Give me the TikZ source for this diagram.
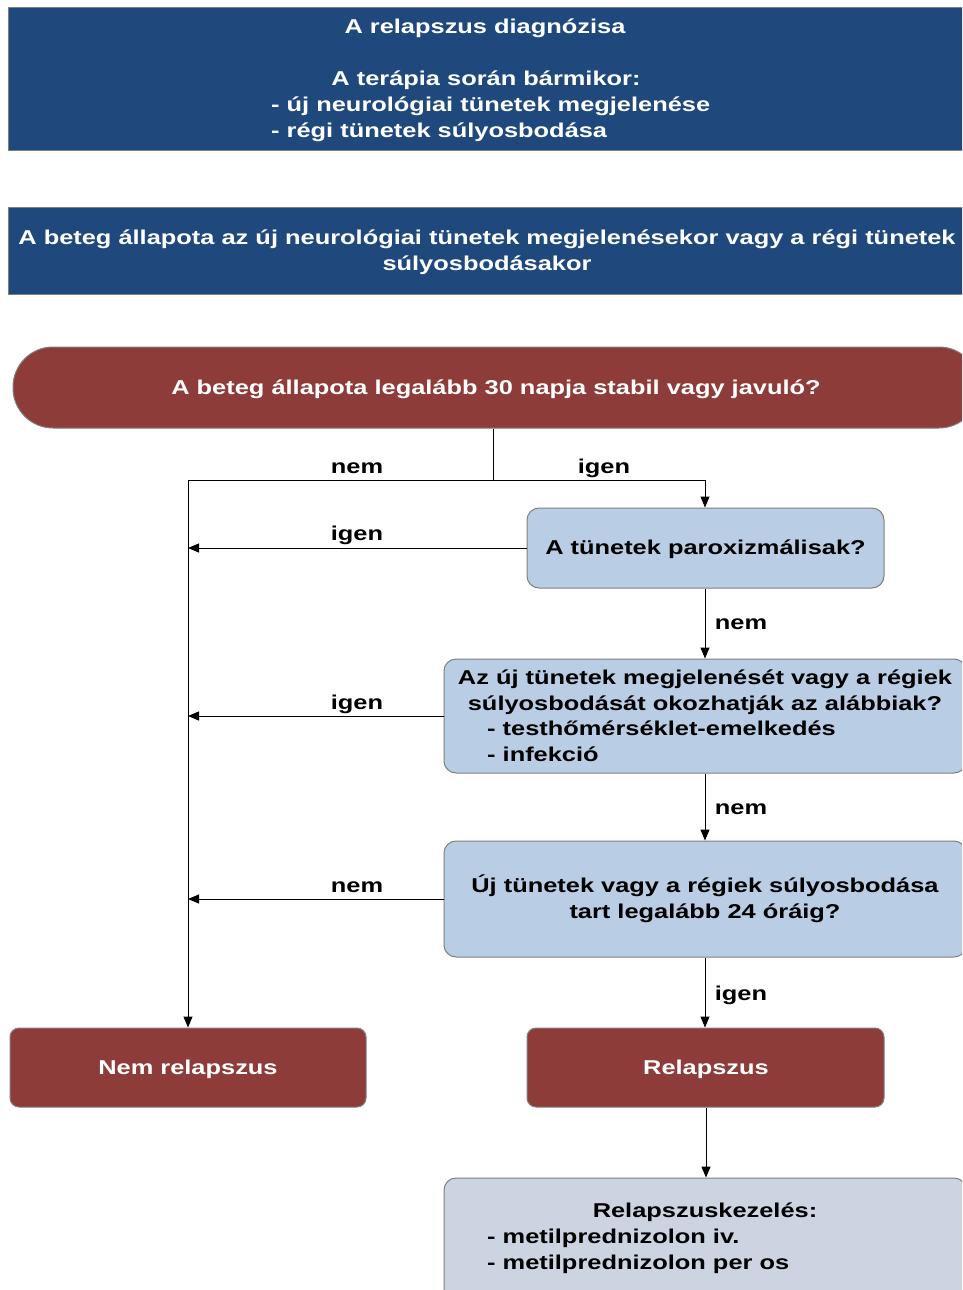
\documentclass[tikz,border=0pt]{standalone}
\usepackage{fontspec}
\setmainfont{Liberation Sans}[FakeStretch=1.27]
\usetikzlibrary{arrows.meta}
\definecolor{navy}{HTML}{1F497D}
\definecolor{brick}{HTML}{8E3C39}
\definecolor{paleblue}{HTML}{B9CDE5}
\definecolor{palegrey}{HTML}{CCD4E2}
\definecolor{edge}{HTML}{7F7F7F}
\tikzset{
  txt/.style={font=\fontsize{20}{26}\selectfont\bfseries, inner sep=0pt},
  wtxt/.style={txt, text=white},
  navybox/.style={draw=edge, line width=1pt, fill=navy},
  pill/.style={draw=edge, line width=1pt, fill=brick, rounded corners=40pt},
  redbox/.style={draw=edge, line width=1pt, fill=brick, rounded corners=9pt},
  bluebox/.style={draw=edge, line width=1pt, fill=paleblue, rounded corners=12pt},
  greybox/.style={draw=edge, line width=1pt, fill=palegrey, rounded corners=12pt},
  link/.style={line width=1pt, black},
  arrow/.style={link, -{Triangle[length=11pt,width=9pt]}},
  lbl/.style={txt, anchor=base},
}
\begin{document}
\begin{tikzpicture}[x=1pt,y=-1pt]
\useasboundingbox (0,0) rectangle (962,1290);
\clip (0,0) rectangle (962,1290);
\fill[white] (0,0) rectangle (962,1290);

% header panels
\draw[navybox] (8,8) rectangle (970,150);
\node[wtxt, anchor=base] (htitle) at (485,34) {A relapszus diagnózisa};
\node[wtxt, anchor=base] (hq) at (486,85) {A terápia során bármikor:};
\node[wtxt, anchor=base west] (hl1) at (271,111) {- új neurológiai tünetek megjelenése};
\node[wtxt, anchor=base west] (hl2) at (271,137) {- régi tünetek súlyosbodása};

\draw[navybox] (8,207) rectangle (970,294);
\node[wtxt, anchor=base] (st1) at (487,244) {A beteg állapota az új neurológiai tünetek megjelenésekor vagy a régi tünetek};
\node[wtxt, anchor=base] (st2) at (487,270) {súlyosbodásakor};

% decision nodes
\node[pill, minimum width=966pt, minimum height=81pt] (stable) at (496,387.5) {};
\node[wtxt, anchor=base] (stabletxt) at (496,394) {A beteg állapota legalább 30 napja stabil vagy javuló?};

\node[bluebox, minimum width=357pt, minimum height=80pt] (parox) at (705.5,548) {};
\node[lbl] (paroxtxt) at (705.5,554) {A tünetek paroxizmálisak?};

\node[bluebox, minimum width=522pt, minimum height=114pt] (cause) at (705,716) {};
\node[lbl] (c1) at (705,684) {Az új tünetek megjelenését vagy a régiek};
\node[lbl] (c2) at (705,710) {súlyosbodását okozhatják az alábbiak?};
\node[txt, anchor=base west] (c3) at (487,735) {- testhőmérséklet-emelkedés};
\node[txt, anchor=base west] (c4) at (487,761) {- infekció};

\node[bluebox, minimum width=522pt, minimum height=116pt] (dur) at (705,899) {};
\node[lbl] (d1) at (705,892) {Új tünetek vagy a régiek súlyosbodása};
\node[lbl] (d2) at (705,918) {tart legalább 24 óráig?};

% outcomes
\node[redbox, minimum width=356pt, minimum height=79pt] (norel) at (188,1067.5) {};
\node[wtxt, anchor=base] (noreltxt) at (188,1074) {Nem relapszus};
\node[redbox, minimum width=357pt, minimum height=79pt] (rel) at (705.5,1067.5) {};
\node[wtxt, anchor=base] (reltxt) at (706,1074) {Relapszus};

\node[greybox, minimum width=522pt, minimum height=140pt] (treat) at (705,1248) {};
\node[lbl] (t1) at (705,1217) {Relapszuskezelés:};
\node[txt, anchor=base west] (t2) at (487,1243) {- metilprednizolon iv.};
\node[txt, anchor=base west] (t3) at (487,1269) {- metilprednizolon per os};

% connectors
\coordinate (split) at (493,480);
\coordinate (lbranch) at (188,480);
\coordinate (rbranch) at (705,480);
\draw[link] (stable.south -| split) -- (split);
\draw[arrow] (split) -- (lbranch) -- (norel.north);
\draw[arrow] (split) -- (rbranch) -- (parox.north -| rbranch);
\draw[arrow] (parox.west) -- (parox.west -| lbranch);
\draw[arrow] (parox.south -| rbranch) -- (cause.north -| rbranch);
\draw[arrow] (cause.west) -- (cause.west -| lbranch);
\draw[arrow] (cause.south -| rbranch) -- (dur.north -| rbranch);
\draw[arrow] (dur.west) -- (dur.west -| lbranch);
\draw[arrow] (dur.south -| rbranch) -- (rel.north -| rbranch);
\draw[arrow] (rel.south -| reltxt) -- (treat.north -| reltxt);

% branch labels
\node[lbl] (n1) at (357,473) {nem};
\node[lbl] (y1) at (604,473) {igen};
\node[lbl] (y2) at (357,540) {igen};
\node[lbl] (n2) at (741,629) {nem};
\node[lbl] (y3) at (357,709) {igen};
\node[lbl] (n3) at (741,814) {nem};
\node[lbl] (n4) at (357,892) {nem};
\node[lbl] (y4) at (741,1000) {igen};
\end{tikzpicture}
\end{document}
